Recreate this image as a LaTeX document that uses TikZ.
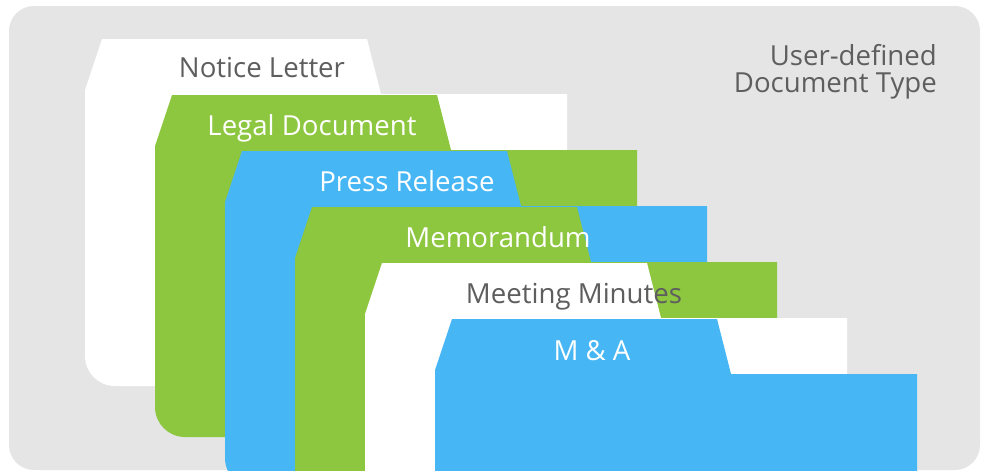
\documentclass[tikz,border=0pt]{standalone}
\usepackage{fontspec}
\setmainfont{Open Sans}
\definecolor{bggray}{HTML}{E5E5E5}
\definecolor{docgreen}{HTML}{8DC63F}
\definecolor{docblue}{HTML}{47B6F4}
\definecolor{txtgray}{HTML}{5E5E5E}
% #1 tab left x, #2 tab top y, #3 bottom y, #4 colour
\newcommand{\doctab}[4]{%
  \fill[#4] ({#1-17},{#2+120}) -- ({#1-17},{#2+51}) -- (#1,#2) -- ({#1+265},#2)
    -- ({#1+279},{#2+55}) -- ({#1+465},{#2+55}) -- ({#1+465},#3)
    -- ({#1+13},#3) .. controls ({#1-3.6},#3) and ({#1-17},{#3-13.4}) .. ({#1-17},{#3-30})
    -- cycle;}
\tikzset{
  lbl/.style={inner sep=0pt, anchor=base, font=\fontsize{27.6}{31}\selectfont},
  darklbl/.style={lbl, text=txtgray},
  lightlbl/.style={lbl, text=white}
}
\begin{document}
\begin{tikzpicture}[x=1pt,y=-1pt]
\useasboundingbox (0,0) rectangle (983,471);
\clip (0,0) rectangle (983,471);
\fill[bggray, rounded corners=25pt] (9,6) rectangle (980,470);
\doctab{102}{39}{386}{white}
\doctab{172}{95}{437}{docgreen}
\doctab{242}{151}{488}{docblue}
\doctab{312}{207}{539}{docgreen}
\doctab{382}{263}{590}{white}
\doctab{452}{319}{641}{docblue}
\node[darklbl] (notice) at (262,77) {Notice Letter};
\node[lightlbl] (legal) at (312,135) {Legal Document};
\node[lightlbl] (press) at (407,191) {Press Release};
\node[lightlbl] (memo) at (498,247) {Memorandum};
\node[darklbl] (meeting) at (574,303) {Meeting Minutes};
\node[lightlbl] (ma) at (592,360) {M \& A};
\node[darklbl, anchor=base east, align=right] (udt1) at (937,65) {User-defined};
\node[darklbl, anchor=base east, align=right] (udt2) at (937,92) {Document Type};
\end{tikzpicture}
\end{document}
